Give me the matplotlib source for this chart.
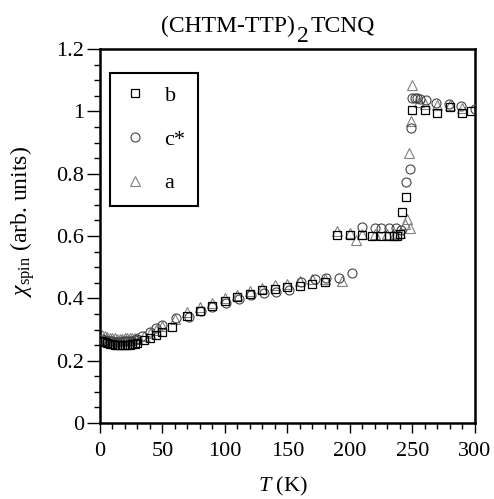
import matplotlib
matplotlib.use("Agg")
import matplotlib.pyplot as plt
from matplotlib.ticker import MultipleLocator, FormatStrFormatter

plt.rcParams['font.family'] = ['Liberation Serif', 'DejaVu Serif']
plt.rcParams['mathtext.fontset'] = 'custom'
plt.rcParams['mathtext.rm'] = 'Liberation Serif'
plt.rcParams['mathtext.it'] = 'Liberation Serif:italic'

# b axis (squares)
T_b = [2, 4, 6, 8, 10, 12, 14, 16, 18, 20, 22, 24, 26, 28, 30, 35, 40, 45, 50,
       58, 70, 80, 90, 100, 110, 120, 130, 140, 150, 160, 170, 180,
       190, 200, 210, 218, 225, 231, 235, 238, 240, 242, 245,
       250, 260, 270, 280, 290, 297]
chi_b = [0.262, 0.260, 0.257, 0.254, 0.252, 0.250, 0.249, 0.249, 0.249, 0.250,
         0.250, 0.251, 0.252, 0.253, 0.256, 0.265, 0.273, 0.283, 0.293,
         0.308, 0.342, 0.358, 0.375, 0.392, 0.404, 0.414, 0.428, 0.429, 0.436,
         0.441, 0.446, 0.452,
         0.603, 0.603, 0.603, 0.600, 0.600, 0.600, 0.601, 0.600, 0.608, 0.677, 0.725,
         1.005, 1.004, 0.995, 1.013, 0.995, 1.000]

# c* axis (circles)
T_c = [2, 4, 6, 8, 10, 12, 14, 16, 18, 20, 22, 24, 26, 28, 30, 34, 40, 45, 50,
       61, 71, 81, 90, 101, 111, 121, 131, 141, 151, 161, 172, 181, 191, 202,
       210, 220, 225, 231, 237, 241, 245, 248, 249,
       250, 252, 254, 256, 261, 269, 279, 289, 300]
chi_c = [0.268, 0.266, 0.264, 0.262, 0.262, 0.261, 0.261, 0.261, 0.262, 0.262,
         0.263, 0.263, 0.264, 0.265, 0.268, 0.278, 0.292, 0.304, 0.314,
         0.337, 0.340, 0.360, 0.372, 0.385, 0.398, 0.410, 0.417, 0.420, 0.427,
         0.452, 0.462, 0.465, 0.465, 0.481,
         0.629, 0.625, 0.625, 0.625, 0.625, 0.620, 0.773, 0.815, 0.946,
         1.043, 1.044, 1.043, 1.040, 1.036, 1.027, 1.025, 1.017, 1.007]

# a axis (triangles)
T_a = [2, 4, 6, 8, 10, 12, 14, 16, 18, 20, 22, 24, 26, 28, 30, 35, 40, 45, 50,
       60, 70, 80, 90, 100, 110, 120, 130, 140, 150, 160, 170, 180, 194,
       190, 200, 205, 210, 220, 230, 236, 240, 244, 246, 248,
       247, 249, 250, 255, 260, 270, 280, 290]
chi_a = [0.282, 0.278, 0.275, 0.273, 0.272, 0.272, 0.271, 0.271, 0.271, 0.272,
         0.272, 0.272, 0.272, 0.272, 0.273, 0.280, 0.290, 0.300, 0.310,
         0.335, 0.355, 0.372, 0.385, 0.400, 0.412, 0.425, 0.432, 0.443, 0.447,
         0.456, 0.462, 0.462, 0.455,
         0.615, 0.610, 0.588, 0.605, 0.605, 0.605, 0.607, 0.610, 0.640, 0.655, 0.625,
         0.866, 0.968, 1.083, 1.030, 1.025, 1.020, 1.020, 1.010]

fig = plt.figure(figsize=(4.94, 4.99), dpi=100)
ax = fig.add_axes([0.2024, 0.1523, 0.7591, 0.7495])

ax.plot(T_a, chi_a, ls='none', marker='^', ms=6.5, mfc='none', mec='#808080',
        mew=0.8, label='a', zorder=2)
ax.plot(T_c, chi_c, ls='none', marker='o', ms=6.5, mfc='none', mec='#444444',
        mew=0.8, label='c*', zorder=3)
ax.plot(T_b, chi_b, ls='none', marker='s', ms=6, mfc='none', mec='black',
        mew=0.9, label='b', zorder=4)

ax.set_xlim(0, 300)
ax.set_ylim(0, 1.2)
ax.xaxis.set_major_locator(MultipleLocator(50))
ax.xaxis.set_minor_locator(MultipleLocator(10))
ax.yaxis.set_major_locator(MultipleLocator(0.2))
ax.yaxis.set_minor_locator(MultipleLocator(0.05))
ax.yaxis.set_major_formatter(FormatStrFormatter('%g'))
ax.tick_params(which='both', direction='out', top=False, right=False,
               labelsize=16, width=1)
ax.tick_params(axis='y', which='major', length=9.5, pad=2)
ax.tick_params(axis='x', which='major', length=7.5, pad=6)
ax.tick_params(which='minor', length=4)
for s in ax.spines.values():
    s.set_linewidth(1.8)

ax.set_xlabel(r'$T$ (K)', fontsize=16)
ax.xaxis.set_label_coords(0.488, -0.138)
ax.set_ylabel(r'$\chi_{\mathregular{spin}}$ (arb. units)', fontsize=17)
ax.yaxis.set_label_coords(-0.168, 0.54)

# title with a full-size, lowered subscript
fig.canvas.draw()
rend = fig.canvas.get_renderer()
x0, yb = 0.326, 0.936
t1 = fig.text(x0, yb, '(CHTM-TTP)', fontsize=17, va='baseline', ha='left')
bb = t1.get_window_extent(rend).transformed(fig.transFigure.inverted())
t2 = fig.text(bb.x1 + 0.004, yb - 0.02, '2', fontsize=17, va='baseline', ha='left')
bb2 = t2.get_window_extent(rend).transformed(fig.transFigure.inverted())
fig.text(bb2.x1 + 0.004, yb, 'TCNQ', fontsize=17, va='baseline', ha='left')

handles, labels = ax.get_legend_handles_labels()
order = [2, 1, 0]
leg = ax.legend([handles[i] for i in order], [labels[i] for i in order],
                loc='upper left', bbox_to_anchor=(0.027, 0.936), borderaxespad=0,
                fontsize=16, frameon=True, fancybox=False, edgecolor='black',
                labelspacing=1.05, borderpad=0.55, handlelength=1.1,
                handletextpad=0.8)
leg.get_frame().set_linewidth(1.5)
leg.get_frame().set_alpha(1)

fig.savefig('out.png', dpi=100)
